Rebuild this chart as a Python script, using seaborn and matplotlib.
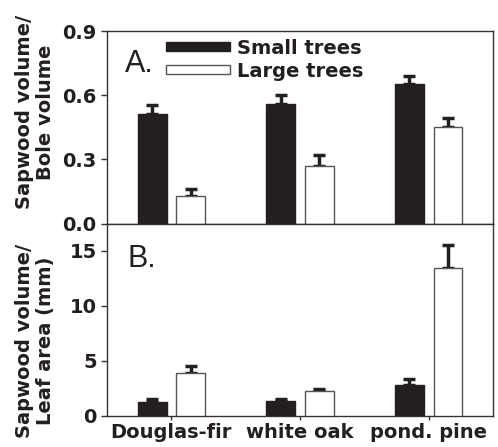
import matplotlib
matplotlib.use("Agg")
import matplotlib.pyplot as plt
from matplotlib.patches import Patch
import seaborn as sns
import pandas as pd

species = ["Douglas-fir", "white oak", "pond. pine"]
sizes = ["Small trees", "Large trees"]
bole_small = [0.51, 0.56, 0.65]
bole_small_err = [0.045, 0.042, 0.042]
bole_large = [0.13, 0.27, 0.45]
bole_large_err = [0.033, 0.052, 0.042]
leaf_small = [1.30, 1.39, 2.82]
leaf_small_err = [0.25, 0.18, 0.50]
leaf_large = [3.88, 2.30, 13.42]
leaf_large_err = [0.67, 0.15, 2.10]

df = pd.DataFrame({
    "species": species * 2,
    "size": [sizes[0]] * 3 + [sizes[1]] * 3,
    "bole": bole_small + bole_large,
    "bole_err": bole_small_err + bole_large_err,
    "leaf": leaf_small + leaf_large,
    "leaf_err": leaf_small_err + leaf_large_err,
})

sns.set_style("ticks")
plt.rcParams["font.family"] = ["DejaVu Sans"]
dark = "#231f20"
spine_c = "#333333"
fills = [dark, "white"]
edges = [dark, "#555555"]
FS = 14

fig, axes = plt.subplots(2, 1, sharex=True, figsize=(4.98, 4.47), dpi=100)
fig.subplots_adjust(left=0.215, right=0.99, top=0.9306, bottom=0.0694, hspace=0)

panels = [("bole", "bole_err", "Sapwood volume/\nBole volume", [0, 0.3, 0.6, 0.9], (0, 0.9), "A.", 0.578),
          ("leaf", "leaf_err", "Sapwood volume/\nLeaf area (mm)", [0, 5, 10, 15], (0, 17.5), "B.", 0.389)]

for ax, (col, ecol, ylab, yt, ylim, tag, ly) in zip(axes, panels):
    sns.barplot(data=df, x="species", y=col, hue="size", hue_order=sizes,
                palette=fills, width=0.6, gap=0.25, errorbar=None,
                ax=ax, legend=False, linewidth=1, zorder=3)
    bar_conts = list(ax.containers)
    for ci, cont in enumerate(bar_conts):
        sub = df[df["size"] == sizes[ci]]
        for p, err in zip(cont.patches, sub[ecol]):
            p.set_edgecolor(edges[ci])
            p.set_facecolor(fills[ci])
            xc = p.get_x() + p.get_width() / 2
            h = p.get_height()
            ax.errorbar([xc], [h], yerr=[[0], [err]], fmt="none", ecolor=dark,
                        elinewidth=2.5, capsize=4.5, capthick=2.5, zorder=2)
    ax.set_ylim(*ylim)
    ax.set_xlim(-0.5, 2.5)
    ax.set_yticks(yt)
    if col == "bole":
        ax.set_yticklabels([f"{v:.1f}" for v in yt])
    ax.set_ylabel(ylab, fontsize=FS, fontweight="bold", color=dark, linespacing=1.15)
    ax.yaxis.set_label_coords(-0.135, ly)
    ax.set_xlabel("")
    for s in ax.spines.values():
        s.set_visible(True)
        s.set_color(spine_c)
        s.set_linewidth(1)
    ax.tick_params(axis="y", direction="out", length=4, width=1, color=spine_c,
                   labelsize=FS, labelcolor=dark, pad=3.5)
    for lab in ax.get_yticklabels():
        lab.set_fontweight("bold")
    ax.text(0.047 if tag == "A." else 0.054, 0.906 if tag == "A." else 0.896, tag,
            transform=ax.transAxes, fontsize=22, color=dark, va="top", ha="left",
            family=["Liberation Sans", "DejaVu Sans"])

axes[0].tick_params(axis="x", length=0, labelbottom=False)
axes[1].tick_params(axis="x", direction="out", length=3, width=1, color=spine_c,
                    labelsize=FS, labelcolor=dark, pad=2)
for lab in axes[1].get_xticklabels():
    lab.set_fontweight("bold")

handles = [Patch(facecolor=fills[i], edgecolor=edges[i], linewidth=1) for i in range(2)]
leg = axes[0].legend(handles, sizes, loc="upper left", bbox_to_anchor=(0.153, 0.96),
                     frameon=False, borderpad=0, borderaxespad=0, handlelength=3.3,
                     handleheight=0.35, handletextpad=0.35, labelspacing=0.2,
                     prop={"size": FS, "weight": "bold"})
for t in leg.get_texts():
    t.set_color(dark)

fig.savefig("out.png", dpi=100)
